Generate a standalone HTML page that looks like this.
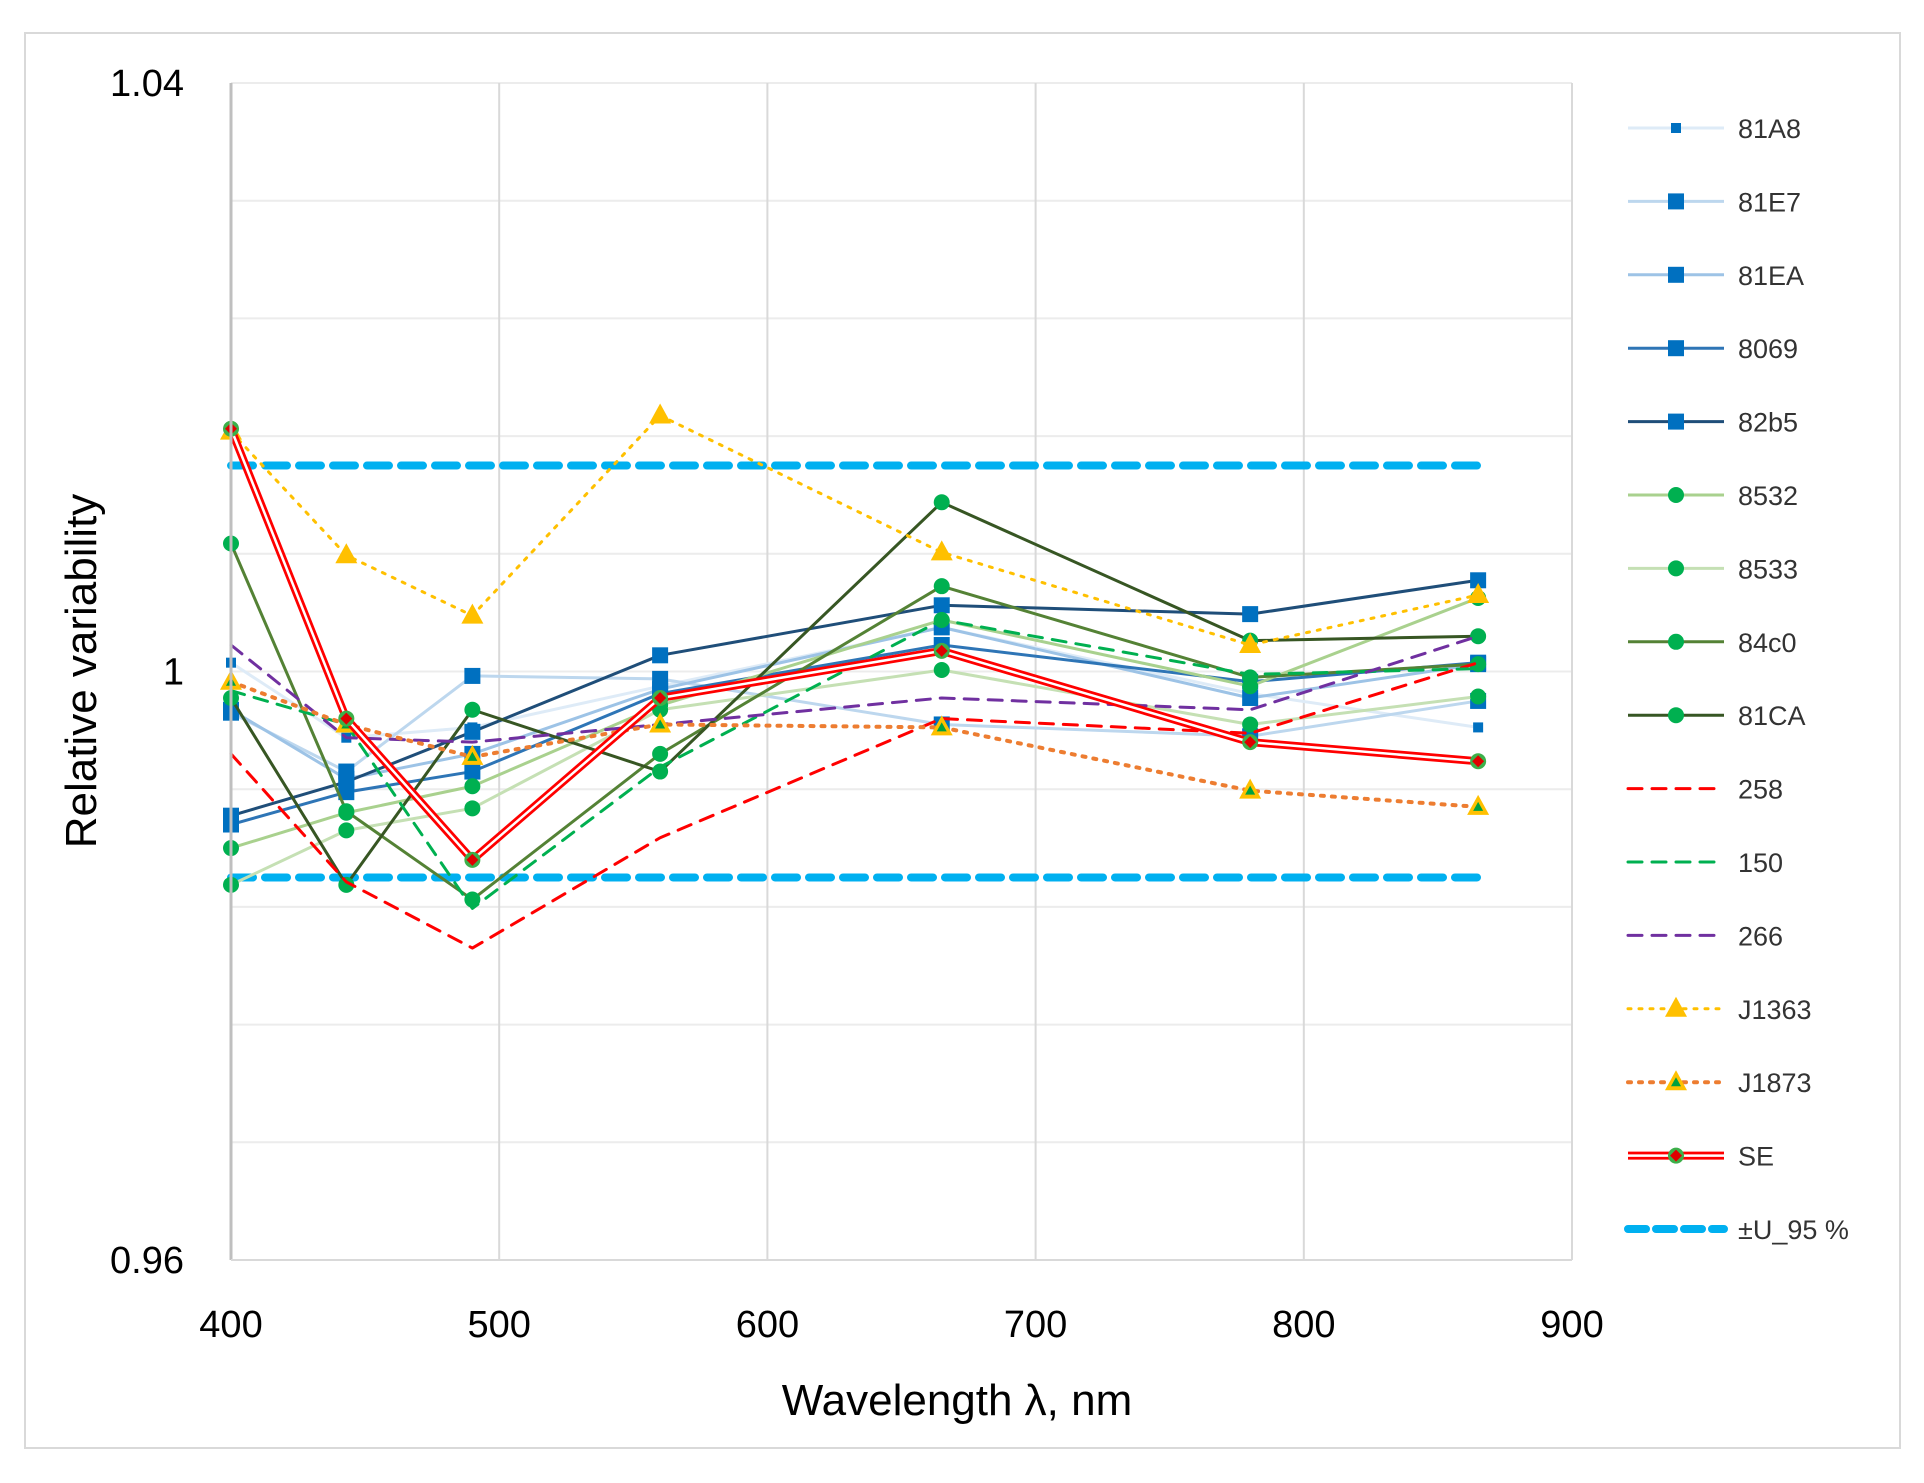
<!DOCTYPE html>
<html><head><meta charset="utf-8">
<style>
html,body{margin:0;padding:0;background:#fff;}
svg{display:block;font-family:"Liberation Sans",sans-serif;}
</style></head>
<body>
<svg id="chart" width="1924" height="1483" viewBox="0 0 1924 1483">
<rect x="25" y="33" width="1875" height="1415" fill="#fff" stroke="#d9d9d9" stroke-width="2"/>
<g id="grid"></g>
<g id="series"></g>
<g id="axes"></g>
<g id="legend"></g>
<text x="96" y="671" font-size="44" text-anchor="middle" transform="rotate(-90 96 671)">Relative variability</text>
<text x="957" y="1415" font-size="44" text-anchor="middle">Wavelength λ, nm</text>
</svg>
<script>
const wavelengths = [400, 443, 490, 560, 665, 780, 865];
const xTicks = [400, 500, 600, 700, 800, 900];
const yTickLabels = ["1.04", "1", "0.96"];
const yTickValues = [1.04, 1.0, 0.96];
const uLimit = 0.014;
const s81A8 = [1.0006, 0.9955, 0.9962, 0.9990, 1.0030, 0.9985, 0.9962];
const s81E7 = [0.9972, 0.9932, 0.9997, 0.9995, 0.9964, 0.9956, 0.9980];
const s81EA = [0.9974, 0.9927, 0.9944, 0.9988, 1.0030, 0.9982, 1.0005];
const s8069 = [0.9896, 0.9918, 0.9932, 0.9985, 1.0018, 0.9993, 1.0006];
const s82b5 = [0.9902, 0.9925, 0.9959, 1.0011, 1.0045, 1.0039, 1.0062];
const s8532 = [0.9880, 0.9904, 0.9922, 0.9977, 1.0035, 0.9990, 1.0050];
const s8533 = [0.9855, 0.9892, 0.9907, 0.9974, 1.0001, 0.9964, 0.9983];
const s84c0 = [1.0087, 0.9905, 0.9845, 0.9944, 1.0058, 0.9996, 1.0005];
const s81CA = [0.9982, 0.9855, 0.9974, 0.9932, 1.0115, 1.0021, 1.0024];
const s258 = [0.9944, 0.9857, 0.9812, 0.9887, 0.9968, 0.9958, 1.0006];
const s150 = [0.9987, 0.9964, 0.9839, 0.9935, 1.0035, 0.9998, 1.0002];
const s266 = [1.0018, 0.9955, 0.9952, 0.9964, 0.9982, 0.9974, 1.0024];
const sJ1363 = [1.0163, 1.0079, 1.0038, 1.0174, 1.0081, 1.0018, 1.0052];
const sJ1873 = [0.9993, 0.9964, 0.9942, 0.9964, 0.9962, 0.9919, 0.9908];
const sSE = [1.0165, 0.9968, 0.9872, 0.9982, 1.0014, 0.9952, 0.9939];

const X0=231, X1=1572, Y0=1260, Y1=83;
const xs = v => X0 + (v-400)/(900-400)*(X1-X0);
const ys = v => Y0 - (v-0.96)/(1.04-0.96)*(Y0-Y1);
const NS="http://www.w3.org/2000/svg";
function mk(tag, attrs, parent){const e=document.createElementNS(NS,tag);for(const k in attrs)e.setAttribute(k,attrs[k]);parent.appendChild(e);return e;}

const grid=document.getElementById('grid');
for(let i=0;i<=10;i++){
  const v=0.96+i*0.008;
  const l=mk('line',{x1:X0,x2:X1,y1:ys(v),y2:ys(v),stroke:'#ececec','stroke-width':2},grid);
  
  
}
xTicks.forEach(t=>{
  const l=mk('line',{x1:xs(t),x2:xs(t),y1:Y1,y2:Y0,stroke:'#d9d9d9','stroke-width':2},grid);
  
  
});
const axes=document.getElementById('axes');
const ax=mk('line',{x1:X0,x2:X0,y1:Y1,y2:Y0,stroke:'#bfbfbf','stroke-width':3},axes);


const bx=mk('line',{x1:X0,x2:X1,y1:Y0,y2:Y0,stroke:'#d9d9d9','stroke-width':2},axes);


xTicks.forEach(t=>{
  const tx=mk('text',{x:xs(t),y:1337,'font-size':38,'text-anchor':'middle',fill:'#000'},axes);
  tx.textContent=t;
  
  
});
yTickValues.forEach((v,i)=>{
  const tx=mk('text',{x:184,y:ys(v)+13,'font-size':38,'text-anchor':'end',fill:'#000'},axes);
  tx.textContent=yTickLabels[i];
  
  
});

const MB='#0070c0', MG='#00b050';
const series=[
 {n:'81A8',d:s81A8,c:'#deebf7',w:3,m:'sqs'},
 {n:'81E7',d:s81E7,c:'#bdd7ee',w:3,m:'sq'},
 {n:'81EA',d:s81EA,c:'#9dc3e6',w:3,m:'sq'},
 {n:'8069',d:s8069,c:'#2e75b6',w:3,m:'sq'},
 {n:'82b5',d:s82b5,c:'#1f4e79',w:3,m:'sq'},
 {n:'8532',d:s8532,c:'#a9d18e',w:3,m:'ci'},
 {n:'8533',d:s8533,c:'#c5e0b4',w:3,m:'ci'},
 {n:'84c0',d:s84c0,c:'#548235',w:3,m:'ci'},
 {n:'81CA',d:s81CA,c:'#375623',w:3,m:'ci'},
 {n:'258',d:s258,c:'#ff0000',w:3,dash:'14 10'},
 {n:'150',d:s150,c:'#00b050',w:3,dash:'14 10'},
 {n:'266',d:s266,c:'#7030a0',w:3,dash:'14 10'},
 {n:'J1363',d:sJ1363,c:'#ffc000',w:3,dash:'3 8',m:'tri'},
 {n:'J1873',d:sJ1873,c:'#ed7d31',w:4,dash:'3 8',m:'tri2'},
 {n:'SE',d:sSE,c:'#ff0000',w:3,m:'se',dbl:true}
];
const sg=document.getElementById('series');
function marker(type,x,y,g){
  let e;
  if(type==='sq'){e=mk('rect',{x:x-8,y:y-8,width:16,height:16,fill:MB},g);}
  else if(type==='sqs'){e=mk('rect',{x:x-5,y:y-5,width:10,height:10,fill:MB},g);}
  else if(type==='ci'){e=mk('circle',{cx:x,cy:y,r:8,fill:MG},g);}
  else if(type==='tri'){e=mk('polygon',{points:`${x},${y-12} ${x-11},${y+8} ${x+11},${y+8}`,fill:'#ffc000'},g);}
  else if(type==='tri2'){e=mk('polygon',{points:`${x},${y-12} ${x-11},${y+8} ${x+11},${y+8}`,fill:'#ffc000'},g);
    const i2=mk('polygon',{points:`${x},${y-5} ${x-5},${y+4} ${x+5},${y+4}`,fill:'#00a040'},g);
    
    }
  else if(type==='se'){e=mk('circle',{cx:x,cy:y,r:8,fill:'#3cb04a'},g);
    const dm=mk('polygon',{points:`${x},${y-6} ${x+6},${y} ${x},${y+6} ${x-6},${y}`,fill:'#e00000'},g);
    
    }
  if(e){
  }
}
// U limits
[1+uLimit,1-uLimit].forEach(v=>{
  const l=mk('line',{x1:xs(400),x2:xs(865),y1:ys(v),y2:ys(v),stroke:'#00b0f0','stroke-width':8,'stroke-dasharray':'22 12','stroke-linecap':'round'},sg);
  
  
});
series.forEach(s=>{
  const g=mk('g',{},sg);
  
  
  const pts=s.d.map((v,i)=>xs(wavelengths[i])+','+ys(v)).join(' ');
  if(s.dbl){
    const p1=mk('polyline',{points:pts,fill:'none',stroke:s.c,'stroke-width':8,'stroke-linejoin':'round'},g);
    
    
    const p2=mk('polyline',{points:pts,fill:'none',stroke:'#fff','stroke-width':2.5,'stroke-linejoin':'round'},g);
    
    
  } else {
    const a={points:pts,fill:'none',stroke:s.c,'stroke-width':s.w,'stroke-linejoin':'round'};
    if(s.dash){a['stroke-dasharray']=s.dash;a['stroke-linecap']='round';}
    const p=mk('polyline',a,g);
    
    
  }
  if(s.m) s.d.forEach((v,i)=>marker(s.m,xs(wavelengths[i]),ys(v),g));
});
// legend
const lg=document.getElementById('legend');
const legendItems=series.concat([{n:'±U_95 %',c:'#00b0f0',w:8,dash:'18 10',u:true}]);
legendItems.forEach((s,i)=>{
  const y=128+i*73.4;
  const g=mk('g',{},lg);
  
  
  if(s.dbl){
    const a=mk('line',{x1:1628,x2:1724,y1:y,y2:y,stroke:s.c,'stroke-width':8},g);
    
    
    const b=mk('line',{x1:1628,x2:1724,y1:y,y2:y,stroke:'#fff','stroke-width':2.5},g);
    
    
  } else {
    const a={x1:1628,x2:1724,y1:y,y2:y,stroke:s.c,'stroke-width':s.w};
    if(s.dash){a['stroke-dasharray']=s.dash;a['stroke-linecap']='round';}
    const l=mk('line',a,g);
    
    
  }
  if(s.m) marker(s.m,1676,y,g);
  const t=mk('text',{x:1738,y:y+10,'font-size':27,fill:'#333'},g);
  t.textContent=s.n;
  
  
});
</script>
</body></html>
